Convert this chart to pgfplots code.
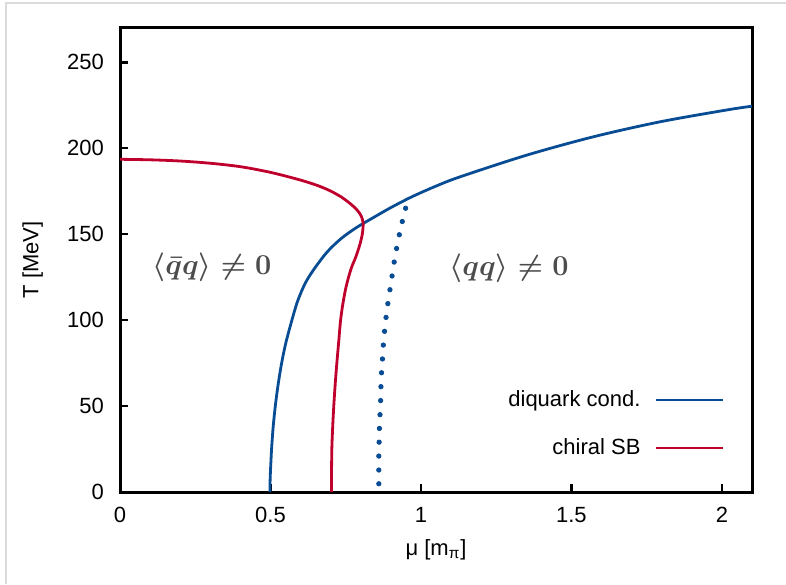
\documentclass[border=0pt]{standalone}
\usepackage{pgfplots}
\pgfplotsset{compat=1.18}
\usepackage[no-math]{fontspec}
\setmainfont{Liberation Sans}
\definecolor{dqblue}{RGB}{8,76,148}
\definecolor{chred}{RGB}{192,0,44}
\newcommand{\labfont}{\fontsize{11}{13}\selectfont}
\newcommand{\annfont}{\fontsize{14}{16}\selectfont}
% \boldmath is kept inside its own group so its \aftergroup stays in the node box
\newcommand{\chiralcond}{{\boldmath$\langle\bar{q}q\rangle\neq0$}}
\newcommand{\diquarkcond}{{\boldmath$\langle qq\rangle\neq0$}}
\pgfplotsset{
  long line legend/.style={
    legend image code/.code={%
      \draw[mark repeat=2,mark phase=2,##1]
        plot coordinates {(0cm,0cm) (0.59cm,0cm) (1.18cm,0cm)};%
    }
  }
}

\begin{document}
\begin{tikzpicture}
\useasboundingbox (0pt,0pt) rectangle (393pt,292pt);
\draw[black!14, line width=1pt] (2.75pt,0pt) -- (2.75pt,290.25pt) -- (393pt,290.25pt);
\begin{axis}[
  at={(60pt,46pt)}, anchor=south west,
  scale only axis, width=316pt, height=232pt,
  xmin=0, xmax=2.1, ymin=0, ymax=270,
  xtick={0,0.5,1,1.5,2}, ytick={0,50,...,250},
  tick align=inside, xtick pos=bottom, ytick pos=left,
  major tick length=4pt,
  axis line style={line width=1.5pt},
  tick style={line width=1.2pt, black},
  /pgf/number format/assume math mode=true,
  tick label style={font=\labfont},
  xticklabel style={yshift=-4pt},
  yticklabel style={xshift=-4.5pt},
  label style={font=\labfont},
  xlabel={μ [m\textsubscript{π}]},
  ylabel={T [MeV]},
  xlabel style={at={(axis description cs:0.5,-0.125)}, anchor=center},
  ylabel style={at={(axis description cs:-0.138,0.5)}, anchor=center},
  legend style={draw=none, fill=none, font=\labfont,
    at={(axis description cs:0.957,0.1466)}, anchor=east,
    inner sep=0pt, row sep=10.5pt, column sep=5pt},
  legend cell align=right,
  legend plot pos=right,
  long line legend,
]
% superfluid (diquark condensation) boundary
\addplot[dqblue, line width=1.4pt, smooth] coordinates {
 (0.498,0) (0.499,8) (0.501,16) (0.504,26) (0.509,38) (0.516,50)
 (0.525,62) (0.536,74) (0.550,86) (0.568,98) (0.590,111) (0.617,122)
 (0.650,131) (0.690,140) (0.735,147.5) (0.785,153.8) (0.840,159.5)
 (0.900,165.5) (0.970,171.8) (1.050,178) (1.13,183.4) (1.351,196.0)
 (1.573,206.7) (1.794,215.4) (2.016,222.3) (2.1,224.5)
};
\addlegendentry{diquark cond.}
% chiral symmetry breaking boundary
\addplot[chred, line width=1.4pt, smooth] coordinates {
 (0,193.6) (0.1,193.3) (0.2,192.6) (0.3,191.3) (0.4,189.3) (0.5,186.0)
 (0.6,181.5) (0.66,178.1) (0.70,175.1) (0.735,171.7) (0.76,168.5)
 (0.78,165.5) (0.795,162.5) (0.804,159.5) (0.808,155.9) (0.805,150)
 (0.797,144) (0.784,137) (0.768,130) (0.752,120) (0.741,110)
 (0.733,100) (0.727,88) (0.721,76) (0.716,65) (0.711,52) (0.707,39)
 (0.704,26) (0.703,13) (0.703,0)
};
\addlegendentry{chiral SB}
% dotted continuation of the diquark line
\addplot[dqblue, only marks, mark=*, mark size=1.1pt, forget plot] coordinates {
 (0.860,4.8) (0.860,12.8) (0.860,20.9) (0.861,29.0) (0.862,37.0)
 (0.864,45.0) (0.866,53.2) (0.867,61.3) (0.869,69.4) (0.872,77.4)
 (0.875,85.5) (0.879,93.5) (0.884,101.6) (0.890,109.6) (0.897,117.7)
 (0.904,125.7) (0.911,133.8) (0.919,141.7) (0.928,149.7) (0.938,157.4)
 (0.949,165.1)
};
\end{axis}
% phase labels (axis frame spans 60pt..376pt by 46pt..278pt)
\node[text=black!70, font=\annfont] at (106.0pt,158.1pt) {\chiralcond};
\node[text=black!70, font=\annfont] at (254.5pt,157.7pt) {\diquarkcond};
\end{tikzpicture}
\end{document}
